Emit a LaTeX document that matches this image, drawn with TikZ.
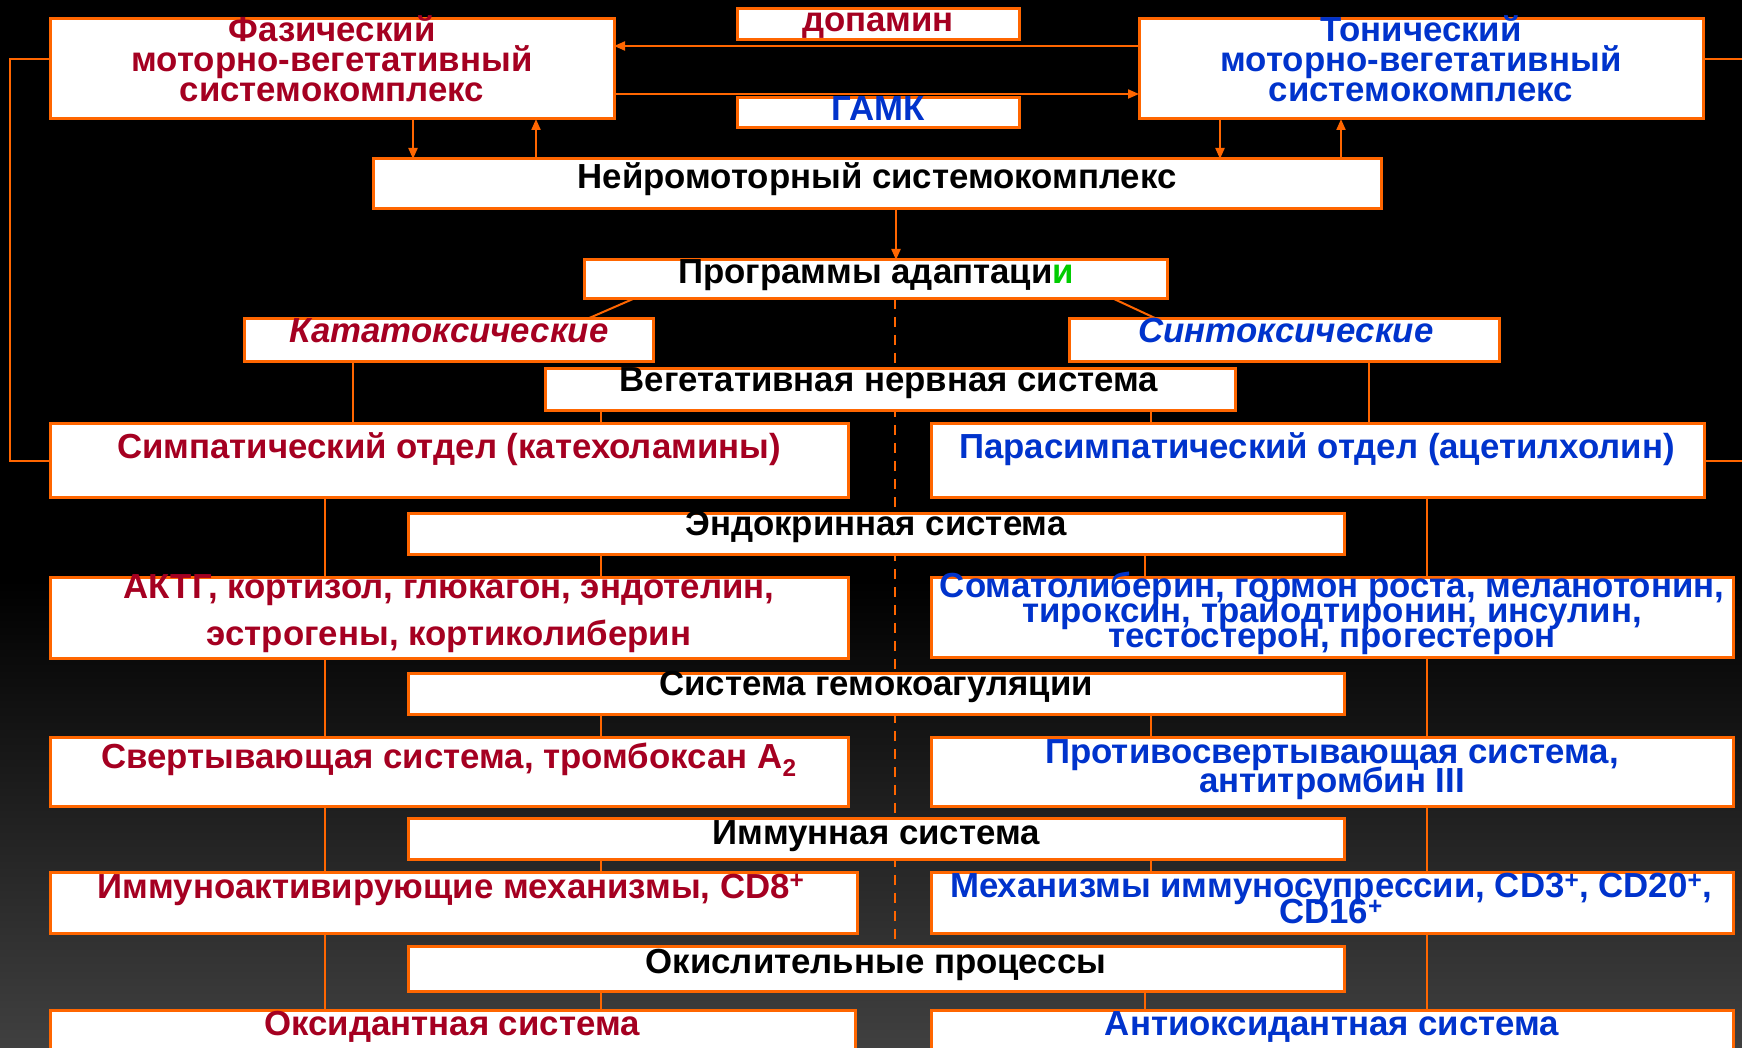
\documentclass[tikz,border=0pt]{standalone}
\usepackage{fontspec}
\setmainfont{Liberation Sans}
\usetikzlibrary{arrows.meta}
\definecolor{orng}{RGB}{255,102,0}
\definecolor{tred}{RGB}{165,0,33}
\definecolor{tblue}{RGB}{0,51,204}
\definecolor{tgreen}{RGB}{0,204,0}
\definecolor{bggray}{RGB}{64,64,64}
\pgfdeclarelayer{bglayer}
\pgfdeclarelayer{linelayer}
\pgfsetlayers{bglayer,linelayer,main}
\newcommand\mybox[5]{\node[box, minimum width={#4-#2}, minimum height={#5-#3}] (#1) at (#2,#3) {};}
\newcommand\fs[1]{\fontsize{34.8}{#1}\selectfont\bfseries\lineskiplimit=-100pt\relax}
\tikzset{
  box/.style={draw=orng, line width=3pt, fill=white, inner sep=0pt, outer sep=0pt, anchor=north west},
  txt/.style={font=\fs{29}, inner sep=0pt, align=center},
  lnk/.style={draw=orng, line width=2pt},
  arr/.style={draw=orng, line width=2pt, -{Triangle[length=11pt,width=9pt]}},
  dsh/.style={draw=orng, line width=2pt, dash pattern=on 10pt off 8pt}
}
\begin{document}
\begin{tikzpicture}[x=1pt,y=-1pt]
\useasboundingbox (0,0) rectangle (1742,1048);
\begin{pgfonlayer}{bglayer}
\fill[black] (0,0) rectangle (1742,1048);
\shade[top color=black, bottom color=bggray] (0,580) rectangle (1742,1048);
\end{pgfonlayer}
% boxes
\mybox{faz}{50}{19}{614}{119}
\mybox{dop}{737}{9}{1019}{40}
\mybox{gamk}{737}{98}{1019}{128}
\mybox{ton}{1139}{19}{1703}{119}
\mybox{neuro}{373}{159}{1381}{209}
\mybox{prog}{584}{260}{1167}{299}
\mybox{kata}{244}{319}{653}{361}
\mybox{synt}{1069}{319}{1499}{361}
\mybox{veg}{545}{368}{1235}{410}
\mybox{symp}{50}{423}{848}{497}
\mybox{para}{931}{423}{1704}{497}
\mybox{endo}{408}{513}{1344}{554}
\mybox{aktg}{50}{577}{848}{658}
\mybox{soma}{931}{577}{1733}{657}
\mybox{hemo}{408}{673}{1344}{714}
\mybox{svert}{50}{737}{848}{806}
\mybox{prot}{931}{737}{1733}{806}
\mybox{immun}{408}{818}{1344}{859}
\mybox{immact}{50}{872}{857}{933}
\mybox{mech}{931}{872}{1733}{933}
\mybox{oxid}{408}{946}{1344}{991}
\mybox{oxidant}{50}{1010}{855}{1070}
\mybox{antiox}{931}{1010}{1733}{1070}
% free ends
\coordinate (rtop) at (1760,59);
\coordinate (rbot) at (1760,461);
% connectors
\begin{pgfonlayer}{linelayer}
\draw[arr] (ton.west |- 0,46) -- (faz.east |- 0,46);
\draw[arr] (faz.east |- 0,94) -- (ton.west |- 0,94);
\draw[arr] (faz.south -| 413,0) -- (neuro.north -| 413,0);
\draw[arr] (neuro.north -| 536,0) -- (faz.south -| 536,0);
\draw[arr] (ton.south -| 1220,0) -- (neuro.north -| 1220,0);
\draw[arr] (neuro.north -| 1341,0) -- (ton.south -| 1341,0);
\draw[arr] (neuro.south -| 896,0) -- (prog.north -| 896,0);
\draw[lnk, line width=2.5pt] (faz.west |- 0,59) -| (10,461) -- (symp.west |- 0,461);
\draw[lnk] (ton.east |- 0,59) -- (rtop);
\draw[lnk] (para.east |- 0,461) -- (rbot);
\draw[dsh] (prog.south -| 895,0) -- (oxid.north -| 895,0);
\draw[lnk] (prog.south -| 633,0) -- (kata.north -| 587,0);
\draw[lnk] (prog.south -| 1114,0) -- (synt.north -| 1157,0);
\draw[lnk] (kata.south -| 353,0) -- (symp.north -| 353,0);
\draw[lnk] (veg.south -| 601,0) -- (symp.north -| 601,0);
\draw[lnk] (veg.south -| 1151,0) -- (para.north -| 1151,0);
\draw[lnk] (synt.south -| 1369,0) -- (para.north -| 1369,0);
\draw[lnk] (symp.south -| 325,0) -- (oxidant.north -| 325,0);
\draw[lnk] (para.south -| 1427,0) -- (antiox.north -| 1427,0);
\draw[lnk] (endo.south -| 601,0) -- (aktg.north -| 601,0);
\draw[lnk] (endo.south -| 1145,0) -- (soma.north -| 1145,0);
\draw[lnk] (hemo.south -| 601,0) -- (svert.north -| 601,0);
\draw[lnk] (hemo.south -| 1151,0) -- (prot.north -| 1151,0);
\draw[lnk] (immun.south -| 601,0) -- (immact.north -| 601,0);
\draw[lnk] (immun.south -| 1151,0) -- (mech.north -| 1151,0);
\draw[lnk] (oxid.south -| 601,0) -- (oxidant.north -| 601,0);
\draw[lnk] (oxid.south -| 1145,0) -- (antiox.north -| 1145,0);
\end{pgfonlayer}
% texts
\node[txt, text=tred, font=\fs{30}] (t-faz) at (332,59) {Фазический\\моторно-вегетативный\\системокомплекс};
\node[txt, text=tblue, font=\fs{30}] (t-ton) at (1421,59) {Тонический\\моторно-вегетативный\\системокомплекс};
\node[txt, text=tred, anchor=base] (t-dop) at (878,32) {допамин};
\node[txt, text=tblue, anchor=base] (t-gamk) at (878,121) {ГАМК};
\node[txt, anchor=base] (t-neuro) at (877,189) {Нейромоторный системокомплекс};
\node[txt, anchor=base] (t-prog) at (876,284) {Программы адаптаци{\color{tgreen}и}};
\node[txt, text=tred, anchor=base, font=\fs{29}\itshape] (t-kata) at (449,343) {Кататоксические};
\node[txt, text=tblue, anchor=base, font=\fs{29}\itshape] (t-synt) at (1286,343) {Синтоксические};
\node[txt, anchor=base] (t-veg) at (889,391) {Вегетативная нервная система};
\node[txt, text=tred, anchor=base] (t-symp) at (449,458) {Симпатический отдел (катехоламины)};
\node[txt, text=tblue, anchor=base] (t-para) at (1317,458) {Парасимпатический отдел (ацетилхолин)};
\node[txt, anchor=base] (t-endo) at (876,535) {Эндокринная система};
\node[txt, text=tred, font=\fs{47}] (t-aktg) at (449,614) {АКТГ, кортизол, глюкагон, эндотелин,\\эстрогены, кортиколиберин};
\node[txt, text=tblue, font=\fs{25}] (t-soma) at (1332,613) {Соматолиберин, гормон роста, меланотонин,\\тироксин, трайодтиронин, инсулин,\\тестостерон, прогестерон};
\node[txt, anchor=base] (t-hemo) at (876,695) {Система гемокоагуляции};
\node[txt, text=tred, anchor=base] (t-svert) at (449,768) {Свертывающая система, тромбоксан А\textsubscript{2}};
\node[txt, text=tblue, font=\fs{29}] (t-prot) at (1332,770) {Противосвертывающая система,\\антитромбин III};
\node[txt, anchor=base] (t-immun) at (876,844) {Иммунная система};
\node[txt, text=tred, anchor=base] (t-immact) at (451,898) {Иммуноактивирующие механизмы, CD8\textsuperscript{+}};
\node[txt, text=tblue, font=\fs{26}] (t-mech) at (1331,899) {Механизмы иммуносупрессии, CD3\textsuperscript{+}, CD20\textsuperscript{+},\\CD16\textsuperscript{+}};
\node[txt, anchor=base] (t-oxid) at (876,973) {Окислительные процессы};
\node[txt, text=tred, anchor=base] (t-oxidant) at (452,1035) {Оксидантная система};
\node[txt, text=tblue, anchor=base] (t-antiox) at (1332,1035) {Антиоксидантная система};
\end{tikzpicture}
\end{document}
